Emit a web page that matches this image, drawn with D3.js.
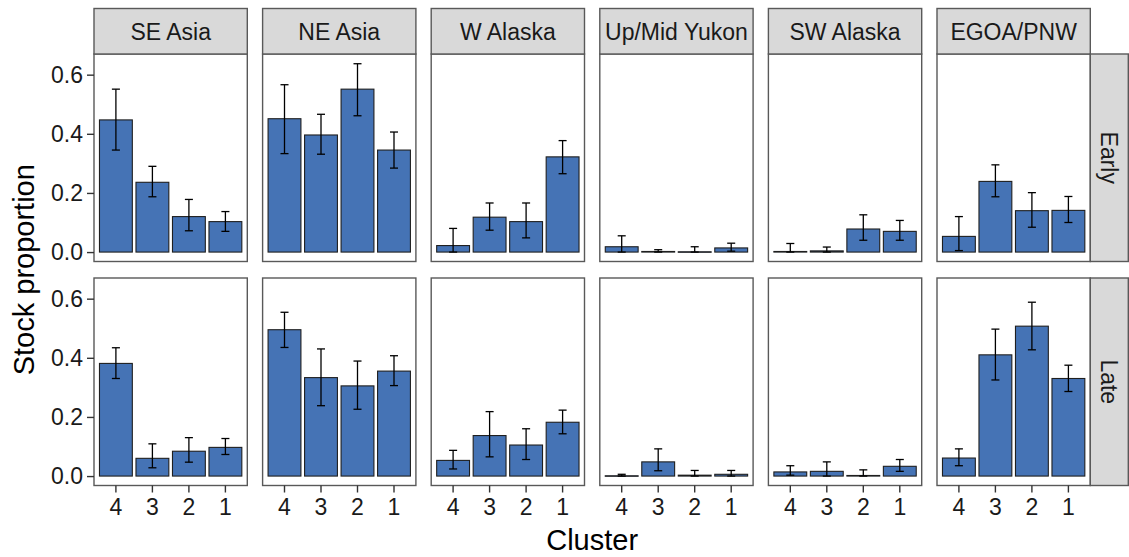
<!DOCTYPE html>
<html lang="en">
<head>
<meta charset="UTF-8">
<title>Stock proportion by cluster</title>
<style>
  body { margin: 0; background: #fff; }
  text { font-family: "Liberation Sans", Arial, sans-serif; }
</style>
</head>
<body>
<div id="chart"></div>
<script src="https://cdnjs.cloudflare.com/ajax/libs/d3/7.8.5/d3.min.js"></script>
<script>
// data
const clusters = ["4", "3", "2", "1"];
const regions = ["SE Asia", "NE Asia", "W Alaska", "Up/Mid Yukon", "SW Alaska", "EGOA/PNW"];
const periods = ["Early", "Late"];
const yTicks = [0, 0.2, 0.4, 0.6];

// one row per region, values for clusters 4,3,2,1
const earlyMean = [
  [0.447, 0.236, 0.120, 0.103],
  [0.451, 0.396, 0.551, 0.345],
  [0.022, 0.118, 0.103, 0.322],
  [0.018, 0.002, 0.001, 0.014],
  [0.002, 0.004, 0.078, 0.070],
  [0.053, 0.239, 0.140, 0.141]
];
const earlyLo = [
  [0.345, 0.187, 0.072, 0.070],
  [0.333, 0.331, 0.461, 0.284],
  [0.000, 0.074, 0.048, 0.265],
  [0.000, 0.000, 0.000, 0.003],
  [0.000, 0.000, 0.040, 0.040],
  [0.005, 0.187, 0.084, 0.100]
];
const earlyHi = [
  [0.551, 0.290, 0.178, 0.137],
  [0.566, 0.466, 0.637, 0.406],
  [0.080, 0.166, 0.166, 0.377],
  [0.055, 0.008, 0.018, 0.030],
  [0.029, 0.017, 0.126, 0.107],
  [0.120, 0.295, 0.201, 0.188]
];
const lateMean = [
  [0.381, 0.060, 0.084, 0.097],
  [0.495, 0.333, 0.305, 0.355],
  [0.053, 0.137, 0.105, 0.182],
  [0.001, 0.048, 0.003, 0.006],
  [0.014, 0.016, 0.002, 0.033],
  [0.061, 0.410, 0.507, 0.330]
];
const lateLo = [
  [0.330, 0.028, 0.047, 0.073],
  [0.435, 0.238, 0.226, 0.306],
  [0.024, 0.065, 0.056, 0.143],
  [0.000, 0.018, 0.000, 0.000],
  [0.003, 0.000, 0.000, 0.016],
  [0.035, 0.325, 0.427, 0.286]
];
const lateHi = [
  [0.434, 0.109, 0.130, 0.127],
  [0.554, 0.430, 0.389, 0.407],
  [0.087, 0.218, 0.160, 0.223],
  [0.006, 0.092, 0.019, 0.019],
  [0.035, 0.048, 0.021, 0.056],
  [0.092, 0.497, 0.588, 0.375]
];

const means = [earlyMean, lateMean];
const los = [earlyLo, lateLo];
const his = [earlyHi, lateHi];

// layout
const W = 1129, H = 557;
const left = 94, panelW = 153.3, gap = 15.3;
const stripTop = 8.5, stripH = 45.5;
const rowTop = [54, 278], panelH = 207.5;
const rightStripW = 38;
const barFill = "#4573b5";
const frame = "#595959";
const smallFont = 23, titleFont = 29;

const svg = d3.select("#chart").append("svg")
  .attr("width", W).attr("height", H);

const x = d3.scaleBand().domain(clusters)
  .range([0, panelW]).paddingInner(0.1).paddingOuter(0.15);
const yMax = 0.638;
const y = d3.scaleLinear().domain([-0.05 * yMax, 1.05 * yMax]).range([panelH, 0]);
const capW = x.step() * 0.22;

periods.forEach((period, r) => {
  regions.forEach((region, c) => {
    const g = svg.append("g")
      .attr("transform", `translate(${left + c * (panelW + gap)},${rowTop[r]})`);

    g.append("rect").attr("width", panelW).attr("height", panelH).attr("fill", "#fff");

    const rows = clusters.map((k, i) => ({
      k: k, v: means[r][c][i], lo: los[r][c][i], hi: his[r][c][i]
    }));

    g.selectAll(".bar").data(rows).enter().append("rect")
      .attr("x", d => x(d.k))
      .attr("width", x.bandwidth())
      .attr("y", d => y(d.v))
      .attr("height", d => Math.max(0.5, y(0) - y(d.v)))
      .attr("fill", barFill)
      .attr("stroke", "#1f1f1f")
      .attr("stroke-width", 1.1);

    const eb = g.selectAll(".eb").data(rows).enter().append("g")
      .attr("stroke", "#000").attr("stroke-width", 1.3);
    eb.append("line")
      .attr("x1", d => x(d.k) + x.bandwidth() / 2).attr("x2", d => x(d.k) + x.bandwidth() / 2)
      .attr("y1", d => y(d.lo)).attr("y2", d => y(d.hi));
    eb.append("line")
      .attr("x1", d => x(d.k) + x.bandwidth() / 2 - capW / 2).attr("x2", d => x(d.k) + x.bandwidth() / 2 + capW / 2)
      .attr("y1", d => y(d.hi)).attr("y2", d => y(d.hi));
    eb.append("line")
      .attr("x1", d => x(d.k) + x.bandwidth() / 2 - capW / 2).attr("x2", d => x(d.k) + x.bandwidth() / 2 + capW / 2)
      .attr("y1", d => y(d.lo)).attr("y2", d => y(d.lo));

    g.append("rect").attr("width", panelW).attr("height", panelH)
      .attr("fill", "none").attr("stroke", frame).attr("stroke-width", 1.4);

    // column strips on the top row
    if (r === 0) {
      const s = g.append("g").attr("transform", `translate(0,${stripTop - rowTop[0]})`);
      s.append("rect").attr("width", panelW).attr("height", stripH)
        .attr("fill", "#d9d9d9").attr("stroke", frame).attr("stroke-width", 1.4);
      s.append("text").attr("x", panelW / 2).attr("y", stripH / 2)
        .attr("dy", "0.36em").attr("text-anchor", "middle")
        .attr("font-size", smallFont).attr("fill", "#1a1a1a").text(region);
    }

    // y axis on the first column
    if (c === 0) {
      const ya = g.append("g")
        .call(d3.axisLeft(y).tickValues(yTicks).tickFormat(d3.format(".1f")).tickSize(7).tickPadding(4));
      ya.select(".domain").remove();
      ya.selectAll("line").attr("stroke", "#333").attr("stroke-width", 1.4);
      ya.selectAll("text").attr("font-size", smallFont).attr("fill", "#1a1a1a")
        .attr("font-family", "Liberation Sans, Arial, sans-serif");
    }

    // x axis on the bottom row
    if (r === 1) {
      const xa = g.append("g").attr("transform", `translate(0,${panelH})`)
        .call(d3.axisBottom(x).tickSize(7).tickPadding(6));
      xa.select(".domain").remove();
      xa.selectAll("line").attr("stroke", "#333").attr("stroke-width", 1.4);
      xa.selectAll("text").attr("font-size", smallFont).attr("fill", "#1a1a1a")
        .attr("font-family", "Liberation Sans, Arial, sans-serif");
    }
  });

  // row strip on the right
  const rx = left + regions.length * panelW + (regions.length - 1) * gap;
  const rs = svg.append("g").attr("transform", `translate(${rx},${rowTop[r]})`);
  rs.append("rect").attr("width", rightStripW).attr("height", panelH)
    .attr("fill", "#d9d9d9").attr("stroke", frame).attr("stroke-width", 1.4);
  rs.append("text")
    .attr("transform", `translate(${rightStripW / 2},${panelH / 2}) rotate(90)`)
    .attr("dy", "0.36em").attr("text-anchor", "middle")
    .attr("font-size", smallFont).attr("fill", "#1a1a1a").text(period);
});

// axis titles
svg.append("text")
  .attr("x", left + (regions.length * panelW + (regions.length - 1) * gap) / 2)
  .attr("y", 550).attr("text-anchor", "middle")
  .attr("font-size", titleFont).attr("fill", "#000").text("Cluster");

svg.append("text")
  .attr("transform", `translate(34,${(rowTop[0] + rowTop[1] + panelH) / 2}) rotate(-90)`)
  .attr("text-anchor", "middle")
  .attr("font-size", titleFont).attr("fill", "#000").text("Stock proportion");
</script>
</body>
</html>
